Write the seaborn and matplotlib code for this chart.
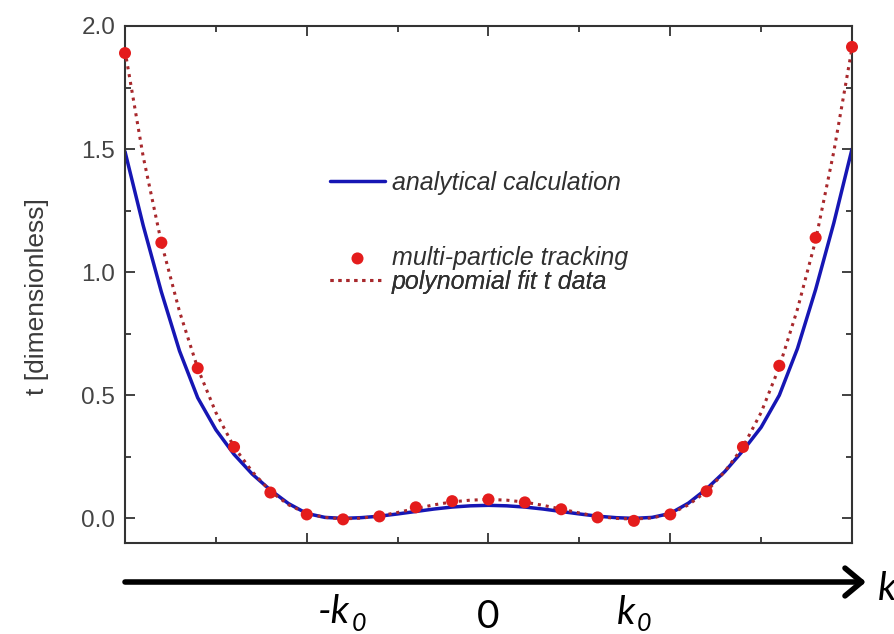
import numpy as np
import pandas as pd
import matplotlib
matplotlib.use("Agg")
import matplotlib.pyplot as plt
from matplotlib.ticker import MultipleLocator, FixedLocator
import seaborn as sns

# ---------------- data ----------------
k_curve = [-2.0, -1.9, -1.8, -1.7, -1.6, -1.5, -1.4, -1.3, -1.2, -1.1, -1.0,
           -0.9, -0.8, -0.7, -0.6, -0.5, -0.4, -0.3, -0.2, -0.1, 0.0,
           0.1, 0.2, 0.3, 0.4, 0.5, 0.6, 0.7, 0.8, 0.9, 1.0,
           1.1, 1.2, 1.3, 1.4, 1.5, 1.6, 1.7, 1.8, 1.9, 2.0]

t_analytical = [1.49, 1.19, 0.92, 0.68, 0.49, 0.36, 0.26, 0.18, 0.115, 0.06, 0.02,
                0.004, 0.0, 0.003, 0.009, 0.018, 0.028, 0.038, 0.046, 0.051, 0.053,
                0.051, 0.046, 0.038, 0.028, 0.018, 0.009, 0.003, 0.0, 0.004, 0.02,
                0.062, 0.12, 0.19, 0.275, 0.37, 0.50, 0.69, 0.93, 1.20, 1.50]

t_polyfit = [1.90, 1.47, 1.12, 0.84, 0.61, 0.43, 0.29, 0.19, 0.11, 0.055, 0.02,
             0.004, -0.002, 0.001, 0.01, 0.024, 0.04, 0.055, 0.067, 0.074, 0.077,
             0.074, 0.066, 0.053, 0.038, 0.022, 0.008, 0.0, -0.003, 0.002, 0.018,
             0.055, 0.11, 0.19, 0.29, 0.43, 0.615, 0.85, 1.13, 1.49, 1.91]

k_points = [-2.0, -1.8, -1.6, -1.4, -1.2, -1.0, -0.8, -0.6, -0.4, -0.2, 0.0,
            0.2, 0.4, 0.6, 0.8, 1.0, 1.2, 1.4, 1.6, 1.8, 2.0]
t_points = [1.89, 1.12, 0.61, 0.29, 0.105, 0.016, -0.004, 0.008, 0.045, 0.07, 0.077,
            0.065, 0.037, 0.004, -0.01, 0.016, 0.11, 0.29, 0.62, 1.14, 1.915]

y_ticks = [0.0, 0.5, 1.0, 1.5, 2.0]
y_ticklabels = ["0.0", "0.5", "1.0", "1.5", "2.0"]
k_axis_labels = ["-k", "0", "k"]

label_analytical = "analytical calculation"
label_points = "multi-particle tracking"
label_fit = "polynomial fit t data"
y_label = "t [dimensionless]"

df_curve = pd.DataFrame({"k": k_curve, "ana": t_analytical, "fit": t_polyfit})
df_pts = pd.DataFrame({"k": k_points, "t": t_points})

# ---------------- style ----------------
sns.set_style("ticks")
plt.rcParams["font.family"] = ["Liberation Sans", "DejaVu Sans"]

W, H = 895, 634
fig = plt.figure(figsize=(W / 100, H / 100), dpi=100)
L, R, T, B = 125, 852, 26, 543
ax = fig.add_axes([L / W, 1 - B / H, (R - L) / W, (B - T) / H])

BLUE = "#1616b4"
RED = "#e41c1c"
DOT = "#a8282c"

sns.lineplot(data=df_curve, x="k", y="fit", ax=ax, color=DOT, lw=2.2,
             linestyle=(0, (1, 1.6)), label=label_fit, zorder=3)
sns.lineplot(data=df_curve, x="k", y="ana", ax=ax, color=BLUE, lw=2.5,
             label=label_analytical, zorder=2)
sns.scatterplot(data=df_pts, x="k", y="t", ax=ax, color=RED, s=75,
                edgecolor="none", label=label_points, zorder=4, clip_on=False)

ax.set_xlim(-2, 2)
ax.set_ylim(-0.1, 2.0)
ax.xaxis.set_major_locator(FixedLocator([-1, 0, 1]))
ax.xaxis.set_minor_locator(FixedLocator([-1.5, -0.5, 0.5, 1.5]))
ax.set_xticklabels([])
ax.set_yticks(y_ticks)
ax.set_yticklabels(y_ticklabels)
ax.yaxis.set_minor_locator(MultipleLocator(0.25))
ax.set_xlabel("")
ax.set_ylabel(y_label, fontsize=19, color="#3a3a3a")
ax.yaxis.set_label_coords((49 - L) / (R - L), (B - 297) / (B - T))

ax.tick_params(which="both", direction="in", top=True, right=True,
               colors="#333333", width=1.3)
ax.tick_params(which="major", length=7, labelsize=17.5, labelcolor="#444444", pad=7)
ax.tick_params(which="minor", length=4)
for s in ax.spines.values():
    s.set_color("#333333")
    s.set_linewidth(1.5)

# legends (one row each, placed like the reference)
handles, labels = ax.get_legend_handles_labels()
hmap = dict(zip(labels, handles))
if ax.get_legend() is not None:
    ax.get_legend().remove()
fs_leg = 18
fpx = fs_leg * 100 / 72
rows = [(label_analytical, 183), (label_points, 258), (label_fit, 282)]
for lab, ypx in rows:
    lg = ax.legend([hmap[lab]], [lab], loc="center left",
                   bbox_to_anchor=(330 / W, 1 - ypx / H), bbox_transform=fig.transFigure,
                   frameon=False, borderpad=0, borderaxespad=0,
                   handlelength=55 / fpx, handletextpad=7 / fpx,
                   prop={"size": fs_leg, "style": "italic"}, labelcolor="#303030")
    ax.add_artist(lg)

# k-axis arrow below the plot
ax.annotate("", xy=(866 / W, 1 - 582 / H), xytext=(125 / W, 1 - 582 / H),
            xycoords="figure fraction", textcoords="figure fraction",
            arrowprops=dict(arrowstyle="->,head_length=0.6,head_width=0.5",
                            lw=4, color="black", shrinkA=0, shrinkB=0,
                            mutation_scale=20))

big = dict(family=["Lato", "DejaVu Sans"], color="black")
fs_big = 28
fs_sub = 18
fig.text(318 / W, 1 - 623 / H, k_axis_labels[0], fontsize=fs_big, style="italic", **big)
fig.text(352 / W, 1 - 631 / H, "0", fontsize=fs_sub, style="italic", **big)
fig.text(477 / W, 1 - 628 / H, k_axis_labels[1], fontsize=fs_big, **big)
fig.text(617 / W, 1 - 624 / H, k_axis_labels[2], fontsize=fs_big, style="italic", **big)
fig.text(637 / W, 1 - 631 / H, "0", fontsize=fs_sub, style="italic", **big)
fig.text(878 / W, 1 - 600 / H, "k", fontsize=fs_big, style="italic", **big)

fig.savefig("out.png", dpi=100)
